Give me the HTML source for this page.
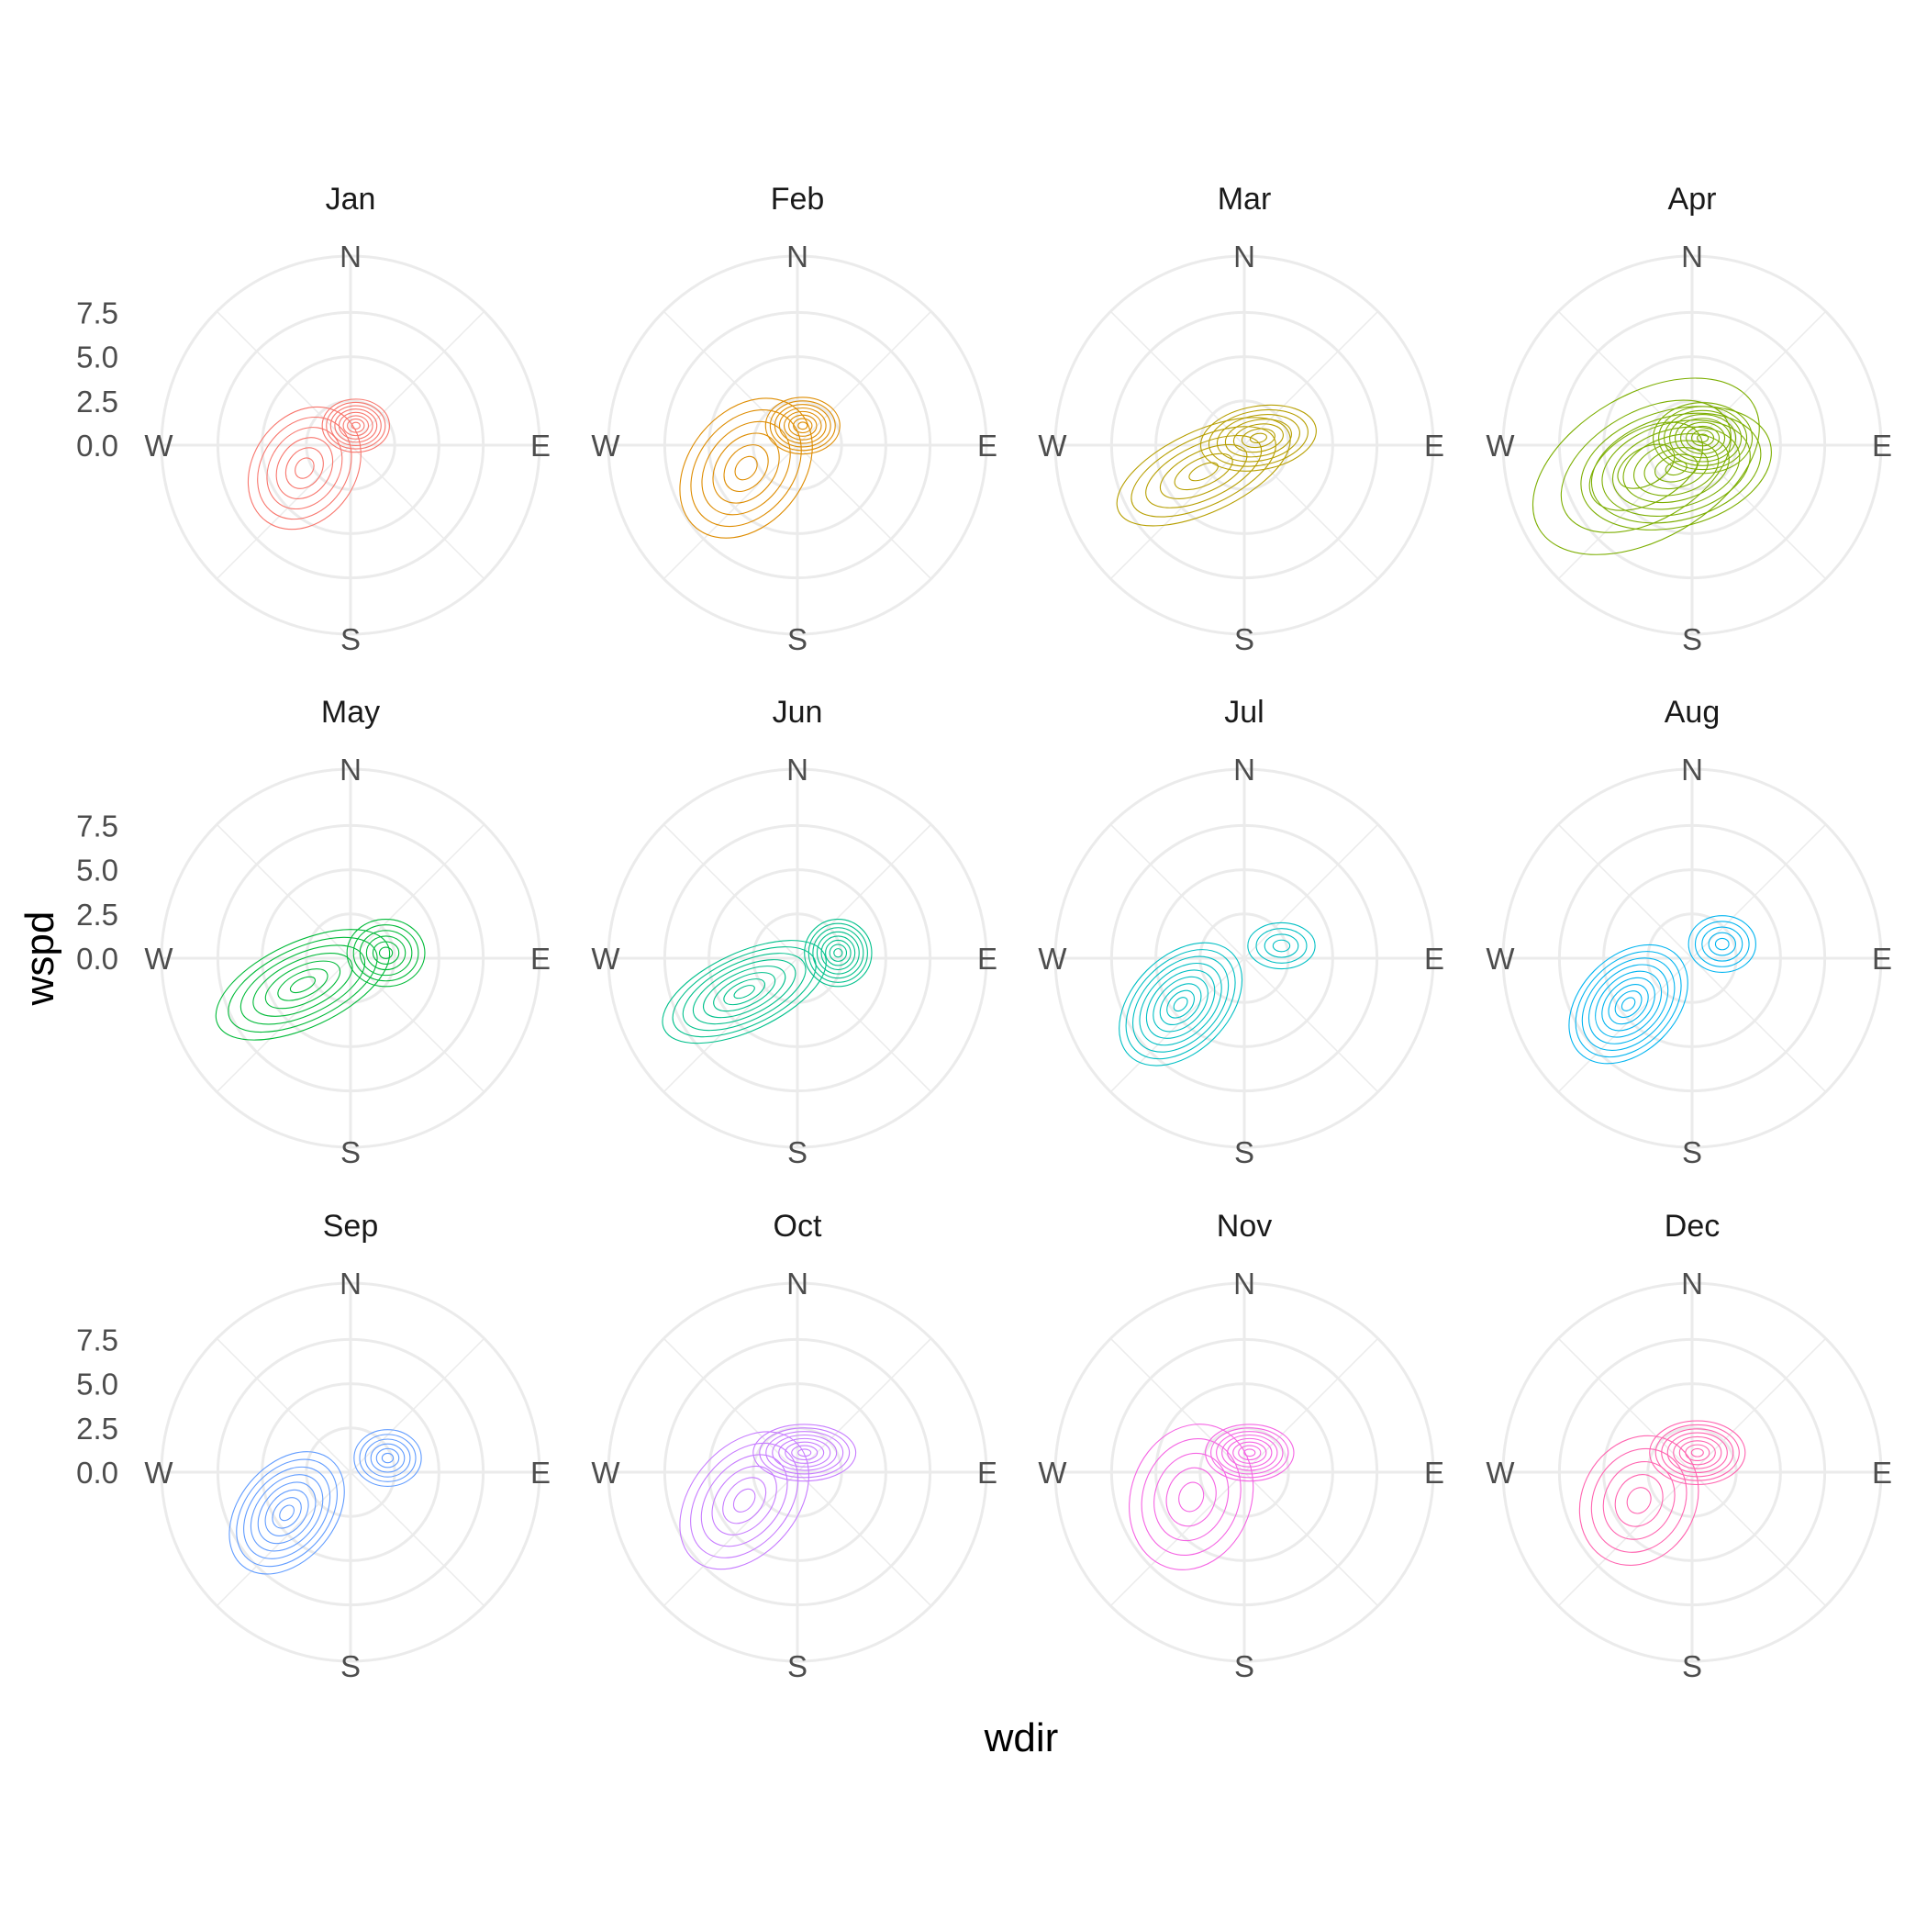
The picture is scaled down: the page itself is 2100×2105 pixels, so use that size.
<!DOCTYPE html>
<html><head><meta charset="utf-8"><style>
html,body{margin:0;padding:0;background:#fff;}
svg text{font-family:"Liberation Sans",sans-serif;}
</style></head><body>
<svg id="chart" width="2100" height="2100" viewBox="0 0 2100 2100" xmlns="http://www.w3.org/2000/svg">
<text x="1113" y="1908" font-size="44" text-anchor="middle" fill="#000">wdir</text>
<text x="0" y="0" font-size="44" text-anchor="middle" fill="#000" transform="translate(58,1044) rotate(-90)">wspd</text>
</svg>
<script>
const months = ["Jan","Feb","Mar","Apr","May","Jun","Jul","Aug","Sep","Oct","Nov","Dec"];
const colors = ["#F8766D","#DE8C00","#B79F00","#7CAE00","#00BA38","#00C08B","#00BFC4","#00B4F0","#619CFF","#C77CFF","#F564E3","#FF64B0"];
const rTicks = [0, 2.5, 5.0, 7.5];
const rTickLabels = ["0.0","2.5","5.0","7.5"];
const compass = ["N","E","S","W"];
// density blobs per month: [eastOffset, northOffset, radiusX, radiusY, rotationDeg, levels] in wspd units
const blobsJan = [[-2.6,-1.3,3.7,2.9,55,6],[0.3,1.1,1.9,1.5,0,8]];
const blobsFeb = [[-2.9,-1.3,4.4,3.2,50,6],[0.3,1.1,2.1,1.6,0,8]];
const blobsMar = [[-2.3,-1.5,5.3,2.3,25,6],[0.8,0.4,3.3,1.8,10,7]];
const blobsApr = [[-2.6,-1.2,7.0,4.1,30,4],[-0.9,-1.3,5.5,3.3,15,9],[0.6,0.4,2.8,2.0,0,9]];
const blobsMay = [[-2.7,-1.5,5.3,2.4,25,7],[2.0,0.3,2.2,1.9,0,6]];
const blobsJun = [[-3.0,-1.9,5.0,2.2,25,8],[2.3,0.3,1.9,1.9,0,8]];
const blobsJul = [[-3.6,-2.6,4.1,2.7,45,9],[2.1,0.7,1.9,1.3,0,4]];
const blobsAug = [[-3.6,-2.6,3.9,2.7,45,9],[1.7,0.8,1.9,1.6,0,5]];
const blobsSep = [[-3.6,-2.3,3.9,2.7,50,8],[2.1,0.8,1.9,1.6,0,6]];
const blobsOct = [[-3.0,-1.6,4.4,3.0,50,6],[0.4,1.1,2.9,1.6,0,8]];
const blobsNov = [[-3.0,-1.4,4.2,3.4,70,5],[0.3,1.1,2.5,1.6,0,8]];
const blobsDec = [[-3.0,-1.6,3.8,3.2,60,5],[0.3,1.1,2.7,1.8,0,8]];
const allBlobs = [blobsJan,blobsFeb,blobsMar,blobsApr,blobsMay,blobsJun,blobsJul,blobsAug,blobsSep,blobsOct,blobsNov,blobsDec];

const NS="http://www.w3.org/2000/svg";
const svg=document.getElementById('chart');
const colX=[382,869,1356,1844], rowY=[485,1044,1604];
const pxPerUnit=19.28, outerR=206;
function rScale(v){return v*pxPerUnit;}
function mk(tag,attrs,parent){const e=document.createElementNS(NS,tag);for(const k in attrs)e.setAttribute(k,attrs[k]);(parent||svg).appendChild(e);return e;}

months.forEach((m,i)=>{
  const cx=colX[i%4], cy=rowY[Math.floor(i/4)];
  const g=mk('g',{});
  
  
  [rScale(2.5),rScale(5),rScale(7.5),outerR].forEach(r=>{
    const c=mk('circle',{cx:cx,cy:cy,r:r,fill:'none',stroke:'#ebebeb','stroke-width':3},g);
    
    
  });
  for(let a=0;a<8;a++){
    const ang=a*Math.PI/4;
    const l=mk('line',{x1:cx,y1:cy,x2:cx+outerR*Math.sin(ang),y2:cy-outerR*Math.cos(ang),stroke:'#ebebeb','stroke-width':a%2?1.5:3},g);
    
    
  }
  const t=mk('text',{x:cx,y:cy-257,'font-size':34,'text-anchor':'middle',fill:'#1a1a1a'},g);
  t.textContent=m;
  
  
  const pos=[[cx,cy-194,'middle'],[cx+207,cy+12,'middle'],[cx,cy+223,'middle'],[cx-209,cy+12,'middle']];
  compass.forEach((d,k)=>{
    const tx=mk('text',{x:pos[k][0],y:pos[k][1],'font-size':33,'text-anchor':pos[k][2],fill:'#4d4d4d'},g);
    tx.textContent=d;
    
    
  });
  if(i%4===0){
    rTicks.forEach((v,k)=>{
      const tl=mk('text',{x:129,y:cy-rScale(v)+12,'font-size':33,'text-anchor':'end',fill:'#4d4d4d'},g);
      tl.textContent=rTickLabels[k];
      
      
    });
  }
  allBlobs[i].forEach(b=>{
    const [ex,ny,rx,ry,rot,n]=b;
    for(let k=1;k<=n;k++){
      const f=k/n;
      const e=mk('ellipse',{cx:cx+rScale(ex),cy:cy-rScale(ny),rx:rScale(rx)*f,ry:rScale(ry)*f,fill:'none',stroke:colors[i],'stroke-width':1.1,transform:`rotate(${-rot} ${cx+rScale(ex)} ${cy-rScale(ny)})`},g);
      
      
    }
  });
});
</script>
</body></html>
